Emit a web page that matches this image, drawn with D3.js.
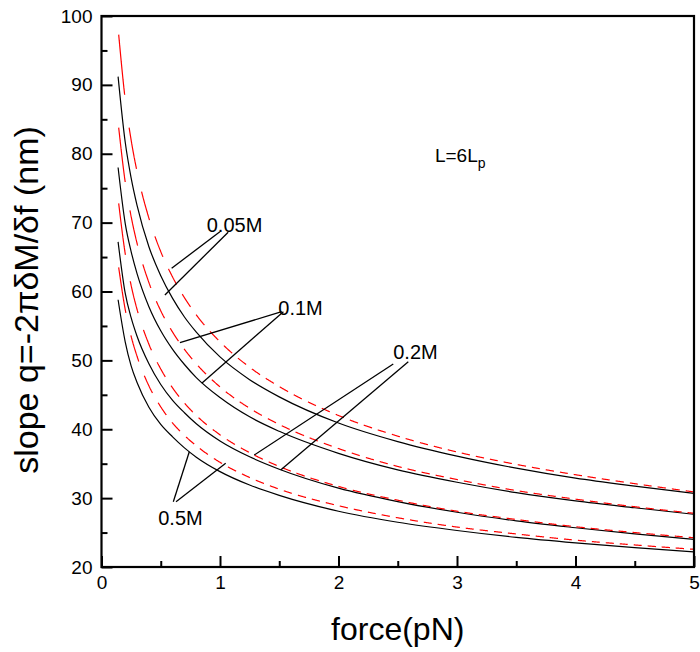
<!DOCTYPE html>
<html><head><meta charset="utf-8">
<script src="https://cdn.jsdelivr.net/npm/d3@7"></script>
<style>body{margin:0;background:#fff}svg{display:block}text{font-family:"Liberation Sans",Arial,sans-serif}</style>
</head><body><svg id="c" width="700" height="652"></svg>
<script>
// ---- data ----
const forceSolid  = [0.14,0.2,0.25,0.3,0.4,0.5,0.6,0.7,0.8,1.0,1.25,1.5,2.0,2.5,3.0,3.5,4.0,4.5,5.0];
const forceDashed = [0.145,0.2,0.25,0.3,0.4,0.5,0.6,0.7,0.8,1.0,1.25,1.5,2.0,2.5,3.0,3.5,4.0,4.5,5.0];
const solid005 = [91.2,81.7,76.5,72.5,66.5,62.3,59.0,56.3,54.1,50.5,47.2,44.7,40.9,38.2,36.1,34.35,32.9,31.75,30.7];
const dash005  = [97.3,87.9,82.0,77.4,70.65,65.8,62.1,59.1,56.6,52.7,49.0,46.2,42.0,39.0,36.7,34.9,33.4,32.1,30.9];
const solid01  = [78.0,69.9,65.8,62.6,57.8,54.3,51.6,49.4,47.5,44.6,41.8,39.7,36.5,34.1,32.3,30.8,29.6,28.6,27.65];
const dash01   = [83.8,75.9,70.9,67.0,61.3,57.2,54.1,51.6,49.5,46.15,43.05,40.7,37.2,34.6,32.7,31.1,29.85,28.75,27.8];
const solid02  = [67.2,59.75,56.2,53.5,49.5,46.5,44.2,42.4,40.8,38.3,36.0,34.2,31.45,29.5,27.95,26.7,25.7,24.8,24.0];
const dash02   = [72.8,65.5,60.9,57.4,52.35,48.75,46.0,43.8,42.0,39.2,36.6,34.6,31.7,29.7,28.1,26.9,25.85,25.0,24.25];
const solid05  = [58.8,52.7,49.2,46.8,43.2,40.7,38.9,37.3,35.95,33.85,31.9,30.4,28.1,26.5,25.3,24.3,23.5,22.8,22.2];
const dash05   = [63.5,57.4,53.5,50.6,46.3,43.25,40.9,39.1,37.6,35.2,33.0,31.3,28.9,27.15,25.8,24.8,23.9,23.2,22.57];
const xTicks = [0,1,2,3,4,5];
const yTicks = [20,30,40,50,60,70,80,90,100];
// labels: text, anchor [f,v], leader lines [[f,v],[f,v]]
const labelText = ["0.05M","0.1M","0.2M","0.5M"];
const labelPos  = [[0.888,68.6],[1.492,56.6],[2.462,50.16],[0.479,26.1]];
const leaderA   = [[[0.999,68.68],[0.592,63.37]],[[1.521,57.07],[0.662,52.57]],[[2.462,49.47],[1.289,36.26]],[[0.606,29.48],[0.741,36.74]]];
const leaderB   = [[[1.069,68.6],[0.535,59.5]],[[1.535,57.07],[0.846,46.67]],[[2.589,49.81],[1.512,34.08]],[[0.629,29.48],[1.048,35.06]]];

// ---- layout ----
const svg = d3.select("#c");
const m = {l:101.5, r:694, t:16, b:567};
const x = d3.scaleLinear().domain([0,5]).range([m.l,m.r]);
const y = d3.scaleLinear().domain([20,100]).range([m.b,m.t]);

const solids = [solid005,solid01,solid02,solid05];
const dashes = [dash005,dash01,dash02,dash05];
const lineS = d3.line().x((d,i)=>x(forceSolid[i])).y(d=>y(d)).curve(d3.curveMonotoneX);
const lineD = d3.line().x((d,i)=>x(forceDashed[i])).y(d=>y(d)).curve(d3.curveMonotoneX);

const gCurves = svg.append("g");
gCurves.selectAll("path.s").data(solids).join("path").attr("class","s")
  .attr("d",lineS).attr("fill","none").attr("stroke","#000").attr("stroke-width",1.2);

// dashed lines: dash pattern measured along a metric that shrinks vertical travel
function dashedD(vals){
  const tmp = gCurves.append("path").attr("d",lineD(vals)).attr("fill","none");
  const node = tmp.node(), L = node.getTotalLength();
  const pts=[]; for(let l=0;l<L;l+=0.4) pts.push(node.getPointAtLength(l)); pts.push(node.getPointAtLength(L));
  tmp.remove();
  const k=10, dash=8.5, gap=5.5, per=dash+gap;
  let s=0, out="", prevOn=false;
  for(let i=0;i<pts.length;i++){
    if(i>0){const dx=pts[i].x-pts[i-1].x, dy=(pts[i].y-pts[i-1].y)/k; s+=Math.hypot(dx,dy);}
    const on = (s%per) < dash;
    if(on){ out += (prevOn?"L":"M")+pts[i].x.toFixed(2)+","+pts[i].y.toFixed(2); }
    prevOn=on;
  }
  return out;
}
gCurves.selectAll("path.d").data(dashes).join("path").attr("class","d")
  .attr("d",dashedD).attr("fill","none").attr("stroke","#ff0000").attr("stroke-width",1.2);

// axes
svg.append("g").attr("transform",`translate(0,${m.b})`)
  .call(d3.axisBottom(x).tickValues(xTicks).tickSize(-11).tickPadding(9).tickFormat(d3.format("d")));
svg.append("g").attr("transform",`translate(0,${m.b})`)
  .call(d3.axisBottom(x).tickValues(d3.range(0.5,5,1)).tickSize(-6).tickFormat(""));
svg.append("g").attr("transform",`translate(${m.l},0)`)
  .call(d3.axisLeft(y).tickValues(yTicks).tickSize(-11).tickPadding(9));
svg.append("g").attr("transform",`translate(${m.l},0)`)
  .call(d3.axisLeft(y).tickValues(d3.range(25,100,10)).tickSize(-6).tickFormat(""));
svg.selectAll(".domain").remove();
svg.selectAll(".tick line").attr("stroke","#000").attr("stroke-width",2);
svg.selectAll(".tick text").attr("font-size",19).attr("fill","#000").style("font-family","'Liberation Sans',Arial,sans-serif");
svg.append("rect").attr("x",m.l).attr("y",m.t).attr("width",m.r-m.l).attr("height",m.b-m.t)
  .attr("fill","none").attr("stroke","#000").attr("stroke-width",2.2);

// labels
const ann = svg.append("g");
labelText.forEach((t,i)=>{
  ann.append("text").attr("x",x(labelPos[i][0])).attr("y",y(labelPos[i][1])).attr("font-size",20).text(t);
  [leaderA[i],leaderB[i]].forEach(l=>{
    ann.append("line").attr("x1",x(l[0][0])).attr("y1",y(l[0][1])).attr("x2",x(l[1][0])).attr("y2",y(l[1][1]))
      .attr("stroke","#000").attr("stroke-width",1.3);
  });
});
const lt = svg.append("text").attr("x",x(2.814)).attr("y",y(78.85)).attr("font-size",19);
lt.append("tspan").text("L=6L");
lt.append("tspan").attr("font-size",14).attr("dy",6).text("p");

// axis titles
svg.append("text").attr("x",(m.l+m.r)/2).attr("y",640).attr("text-anchor","middle").attr("font-size",32).text("force(pN)");
svg.append("text").attr("transform",`translate(38,300) rotate(-90)`).attr("text-anchor","middle")
  .attr("font-size",34).text("slope q=-2πδM/δf (nm)");
</script></body></html>
